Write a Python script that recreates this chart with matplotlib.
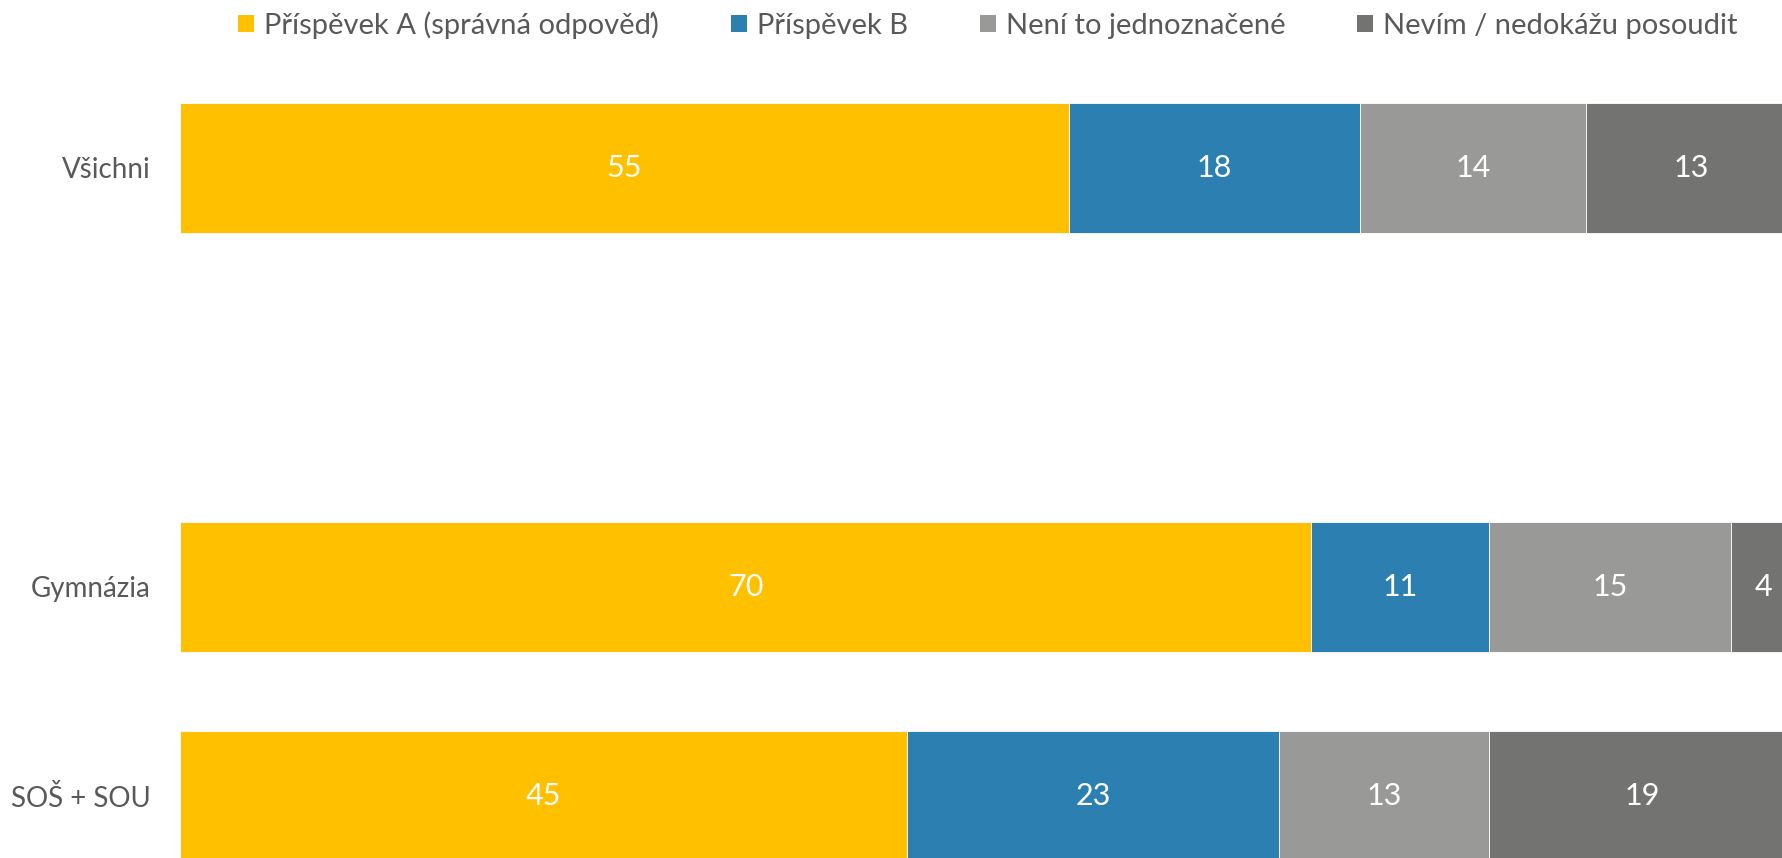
import matplotlib
matplotlib.use('Agg')
import matplotlib.pyplot as plt
from matplotlib.patches import Patch
import numpy as np

categories = ['Všichni', '', 'Gymnázia', 'SOŠ + SOU']
series_names = ['Příspěvek A (správná odpověď)', 'Příspěvek B',
                'Není to jednoznačené', 'Nevím / nedokážu posoudit']
prispevek_a = [55, None, 70, 45]
prispevek_b = [18, None, 11, 23]
neni_jednoznacne = [14, None, 15, 13]
nevim = [13, None, 4, 19]

colors = ['#FFC000', '#2B80B1', '#999A97', '#737472']
text_color = '#595959'
FONT = 'Lato'
FS_TICK = 20
FS_LEG = 21
FS_LAB = 22

plt.rcParams['font.family'] = [FONT, 'DejaVu Sans']

W, H = 1783, 858
fig = plt.figure(figsize=(W / 100, H / 100), dpi=100)
ax = fig.add_axes([180 / W, 0, 1 - 180 / W, 1 - 63.25 / H])

series = [prispevek_a, prispevek_b, neni_jednoznacne, nevim]
pos = [i for i, v in enumerate(prispevek_a) if v is not None]
left = np.zeros(len(pos))
for vals, col in zip(series, colors):
    w = np.array([vals[i] for i in pos], dtype=float)
    bars = ax.barh(pos, w, left=left, height=0.624, color=col,
                   edgecolor='white', linewidth=0.6)
    for b, v in zip(bars, w):
        ax.text(b.get_x() + b.get_width() / 2, b.get_y() + b.get_height() / 2,
                f'{v:.0f}', ha='center', va='center', color='white',
                fontsize=FS_LAB)
    left += w

ax.set_xlim(0, 99.2)
ax.set_ylim(3.2936, -0.5)
ax.set_yticks(pos)
ax.set_yticklabels([categories[i] for i in pos], fontsize=FS_TICK, color=text_color)
ax.tick_params(axis='y', length=0, pad=21)
ax.set_xticks([])
for s in ax.spines.values():
    s.set_visible(False)

handles = [Patch(facecolor=c, edgecolor='none') for c in colors]
fig.legend(handles, series_names, loc='center left',
           bbox_to_anchor=(237.7 / W, 1 - 25 / H), ncol=4, frameon=False,
           fontsize=FS_LEG, labelcolor=text_color, handlelength=0.55,
           handleheight=0.55, handletextpad=0.34, columnspacing=2.47,
           borderpad=0, borderaxespad=0)

fig.savefig('out.png', dpi=100)
